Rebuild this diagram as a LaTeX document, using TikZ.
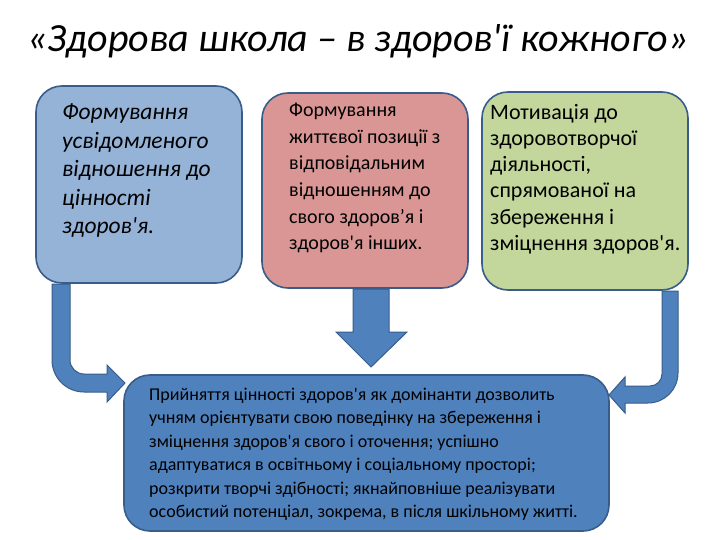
\documentclass[tikz,border=0pt]{standalone}
\usepackage{fontspec}
\setmainfont{Carlito}[Ligatures=TeXOff]
\definecolor{boxblue}{HTML}{95B3D7}
\definecolor{boxpink}{HTML}{D99694}
\definecolor{boxgreen}{HTML}{C3D69B}
\definecolor{mainblue}{HTML}{4F81BD}
\definecolor{edgeblue}{HTML}{385D8A}
\begin{document}
\begin{tikzpicture}[x=1pt,y=-1pt,
  panel/.style={draw=edgeblue,line width=1.6pt,rounded corners=26pt},
  blockarrow/.style={fill=mainblue,draw=edgeblue,line width=1pt,line join=miter},
  txt/.style={anchor=north west,align=left,inner sep=0pt,font=#1},
]
\useasboundingbox (0,0) rectangle (720,540);
\fill[white] (0,0) rectangle (720,540);
% title
\node (title) [font=\fontsize{40}{44}\selectfont\itshape] at (358,41) {«Здорова школа – в здоров'ї кожного»};
% panels
\filldraw[panel,fill=boxblue] (36,86) rectangle (242,283);
\filldraw[panel,fill=boxpink] (262,93) rectangle (468,288);
\filldraw[panel,fill=boxgreen] (482,92) rectangle (688,290);
\filldraw[panel,fill=mainblue] (124,375) rectangle (609,531);
% texts
\node (t1) [txt={\fontsize{23.5}{28.5}\selectfont\itshape}] at (62,104) {Формування\\усвідомленого\\відношення до\\цінності\\здоров'я.};
\node (t2) [txt={\fontsize{20}{26.6}\selectfont}] at (289,103) {Формування\\життєвої позиції з\\відповідальним\\відношенням до\\свого здоров’я і\\здоров'я інших.};
\node (t3) [txt={\fontsize{22}{26.2}\selectfont}] at (490,104) {Мотивація до\\здоровотворчої\\діяльності,\\спрямованої на\\збереження і\\зміцнення здоров'я.};
\node (t4) [txt={\fontsize{18}{23.4}\selectfont}] at (149,388) {Прийняття цінності здоров'я як домінанти дозволить\\учням орієнтувати свою поведінку на збереження і\\зміцнення здоров'я свого і оточення; успішно\\адаптуватися в освітньому і соціальному просторі;\\розкрити творчі здібності; якнайповніше реалізувати\\особистий потенціал, зокрема, в після шкільному житті.};
% block arrows
\filldraw[blockarrow] (52,284) -- (52,360) .. controls (52,377.7) and (66.3,392) .. (84,392)
  -- (107,392) -- (107,402) -- (125,383) -- (107,365) -- (107,374) -- (84,374)
  .. controls (76.3,374) and (70,367.7) .. (70,360) -- (70,284) -- cycle;
\filldraw[blockarrow] (353,289) -- (353,332) -- (336,332) -- (371,367) -- (407,332) -- (389,332) -- (389,289) -- cycle;
\filldraw[blockarrow] (678,291) -- (678,373) .. controls (678,389.6) and (664.6,403) .. (648,403)
  -- (625,403) -- (625,413) -- (609,395) -- (625,377) -- (625,386) -- (650,386)
  .. controls (656.6,386) and (662,380.6) .. (662,374) -- (662,291) -- cycle;
\end{tikzpicture}
\end{document}
